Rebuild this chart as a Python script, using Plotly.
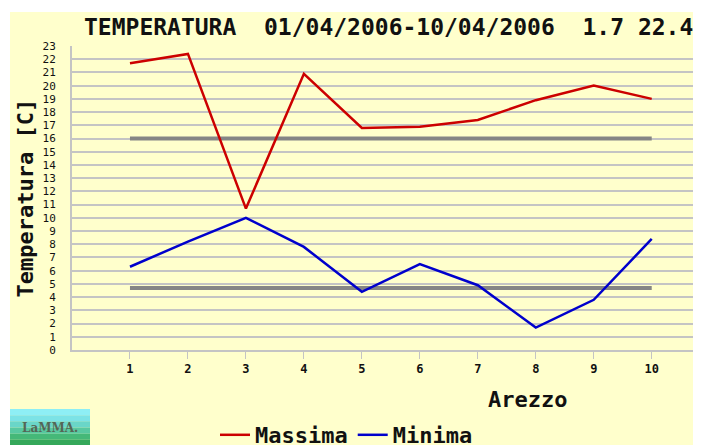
import plotly.graph_objects as go

days = [1, 2, 3, 4, 5, 6, 7, 8, 9, 10]
massima = [21.7, 22.4, 10.7, 20.9, 16.8, 16.9, 17.4, 18.9, 20.0, 19.0]
minima = [6.3, 8.2, 10.0, 7.8, 4.4, 6.5, 4.9, 1.7, 3.8, 8.4]
ref_max = [16.0] * 10
ref_min = [4.7] * 10
y_ticks = list(range(0, 24))
x_ticks = days

title_text = "TEMPERATURA  01/04/2006-10/04/2006  1.7 22.4"
station = "Arezzo"
y_title = "Temperatura [C]"

BG = "#FFFFCC"
GRID = "#C4C4C4"
MONO = "DejaVu Sans Mono"

fig = go.Figure()
fig.add_trace(go.Scatter(x=days, y=ref_max, mode="lines", line=dict(color="#858585", width=4),
                         showlegend=False, hoverinfo="skip"))
fig.add_trace(go.Scatter(x=days, y=ref_min, mode="lines", line=dict(color="#858585", width=4),
                         showlegend=False, hoverinfo="skip"))
fig.add_trace(go.Scatter(x=days, y=massima, mode="lines", name="Massima",
                         line=dict(color="#CC0000", width=2.5)))
fig.add_trace(go.Scatter(x=days, y=minima, mode="lines", name="Minima",
                         line=dict(color="#0000CC", width=2.5)))

OFF = 8  # page body margin
W, H = 701 - OFF, 445 - OFF
L, R, T, B = 72 - OFF, 0, 46 - OFF, 95
pw, ph = W - L - R, H - T - B

def px_x(p):
    return (p - OFF - L) / pw

def px_y(p):
    return (H - B - (p - OFF)) / ph

shapes = [
    dict(type="rect", xref="paper", yref="paper", x0=px_x(10), x1=px_x(720),
         y0=px_y(460), y1=px_y(12), fillcolor=BG, line=dict(width=0), layer="below"),
]
grad = ["#8EEFF5", "#7CE3E6", "#6AD6C8", "#58C8A0", "#45B878", "#35A85A"]
top, bot = 409, 446
step = (bot - top) / len(grad)
for i, c in enumerate(grad):
    shapes.append(dict(type="rect", xref="paper", yref="paper", x0=px_x(10), x1=px_x(90),
                       y0=px_y(top + (i + 1) * step), y1=px_y(top + i * step),
                       fillcolor=c, line=dict(width=0), layer="above"))

annotations = [
    dict(text=title_text, xref="paper", yref="paper", x=px_x(389), y=px_y(27),
         xanchor="center", yanchor="middle", showarrow=False,
         font=dict(family=MONO, size=23, color="#111111", weight=700)),
    dict(text=y_title, xref="paper", yref="paper", x=px_x(25), y=px_y(198.5),
         xanchor="center", yanchor="middle", showarrow=False, textangle=-90,
         font=dict(family=MONO, size=22, color="#111111", weight=700)),
    dict(text=station, xref="paper", yref="paper", x=px_x(527), y=px_y(399),
         xanchor="center", yanchor="middle", showarrow=False,
         font=dict(family=MONO, size=22, color="#111111", weight=700)),
    dict(text="LaMMA.", xref="paper", yref="paper", x=px_x(50), y=px_y(428),
         xanchor="center", yanchor="middle", showarrow=False,
         font=dict(family="DejaVu Serif", size=12, color="#556655", weight=700)),
]

fig.update_layout(
    width=W, height=H,
    margin=dict(l=L, r=R, t=T, b=B, pad=0, autoexpand=False),
    paper_bgcolor="white", plot_bgcolor=BG,
    shapes=shapes, annotations=annotations,
    showlegend=True,
    legend=dict(orientation="h", xref="container", yref="container",
                x=(215 - OFF) / W, y=1 - (414 - OFF) / H, xanchor="left", yanchor="top",
                font=dict(family=MONO, size=22, color="#111111", weight=700),
                bgcolor="rgba(0,0,0,0)", itemwidth=30, tracegroupgap=0),
    xaxis=dict(range=[0, 10.85], tickvals=x_ticks, ticktext=[str(v) for v in x_ticks],
               showgrid=False, zeroline=False, showline=True, linecolor=GRID, linewidth=2,
               ticks="outside", ticklen=7, tickcolor=GRID, tickwidth=1,
               tickfont=dict(family=MONO, size=12, color="#111111", weight=700)),
    yaxis=dict(range=[0, 23], tickvals=y_ticks, ticktext=[str(v) for v in y_ticks],
               showgrid=True, gridcolor=GRID, gridwidth=2, zeroline=False,
               showline=True, linecolor=GRID, linewidth=2,
               ticks="", ticklabelstandoff=12,
               tickfont=dict(family=MONO, size=11, color="#111111")),
)

fig.write_html("out.html")
